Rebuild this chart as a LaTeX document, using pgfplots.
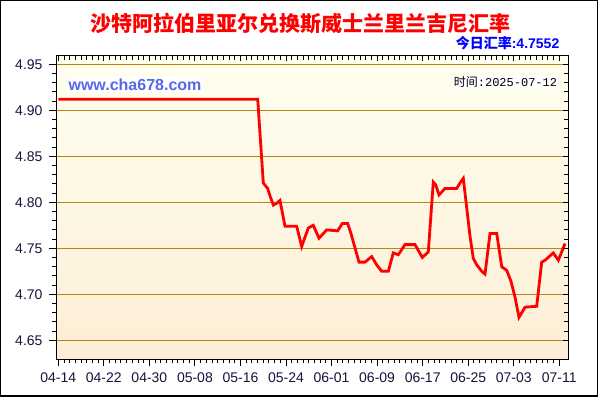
\documentclass[border=0pt]{standalone}
\usepackage{fontspec}
\setmainfont{Liberation Sans}
\newfontfamily\cjk{Noto Sans CJK SC}
\newfontfamily\mono{Liberation Mono}
\usepackage{pgfplots}
\pgfplotsset{compat=1.18}
\definecolor{gridgold}{RGB}{184,134,11}
\definecolor{bgtop}{RGB}{255,255,240}
\definecolor{bgbot}{RGB}{252,238,214}
\definecolor{labelc}{RGB}{20,20,60}
\definecolor{wmark}{RGB}{85,105,235}

\pgfplotstableread{
day rate
0 4.912
35.03 4.912
36.01 4.821
36.78 4.815
37.19 4.807
37.77 4.797
38.36 4.799
38.94 4.802
39.82 4.774
41.88 4.774
42.75 4.752
43.91 4.772
44.79 4.775
45.79 4.761
47.15 4.770
49.08 4.769
49.89 4.777
50.83 4.777
51.41 4.766
52.82 4.735
53.87 4.735
55.05 4.741
55.93 4.732
56.81 4.725
57.97 4.725
58.84 4.745
59.72 4.743
60.90 4.754
62.66 4.754
63.94 4.740
64.99 4.746
65.87 4.822
66.29 4.819
66.87 4.808
67.92 4.815
69.98 4.815
70.56 4.821
71.14 4.826
72.32 4.763
72.90 4.739
73.50 4.732
74.38 4.725
74.95 4.722
75.83 4.766
77.01 4.766
77.89 4.730
78.77 4.726
79.52 4.714
80.22 4.697
80.92 4.675
81.98 4.686
84.03 4.687
84.91 4.735
85.49 4.737
86.95 4.745
87.83 4.737
89.01 4.7552
}\ratedata

\begin{document}
\begin{tikzpicture}
\path (0,0) rectangle (600pt,400pt);
\draw[line width=1.3pt] (0.65pt,4pt) rectangle (597.3pt,399.35pt);
\pgfplotsset{
  base/.style={
    at={(56pt,41pt)}, anchor=south west,
    scale only axis, width=512pt, height=303pt,
    xmin=-0.4, xmax=89.53, ymin=4.6297, ymax=4.959,
    xtick={0,8,...,88}, minor x tick num=7,
    ytick={4.65,4.70,4.75,4.80,4.85,4.90,4.95}, minor y tick num=4,
    major tick length=7pt, minor tick length=4pt,
    every tick/.style={black, line width=0.9pt},
  }
}
\begin{axis}[base,
  xtick pos=left, ytick pos=left, tick align=outside,
  axis line style={black, line width=1pt},
  axis background/.style={top color=bgtop, bottom color=bgbot},
  ymajorgrids, major grid style={gridgold, line width=1pt},
  xticklabels={04-14,04-22,04-30,05-08,05-16,05-24,06-01,06-09,06-17,06-25,07-03,07-11},
  ticklabel style={font=\fontsize{14}{14}\selectfont, text=labelc},
  xticklabel style={yshift=-3pt},
  yticklabel style={xshift=-3pt, /pgf/number format/fixed, /pgf/number format/fixed zerofill, /pgf/number format/precision=2},
  /pgf/number format/assume math mode=true,
]
\addplot[red, line width=2.8pt, line join=miter] table[x=day, y=rate] {\ratedata};
\end{axis}
\begin{axis}[base,
  xtick pos=right, ytick pos=right, tick align=inside,
  major tick length=5pt, minor tick length=4pt,
  axis line style={draw=none},
  xticklabels={}, yticklabels={},
]
\end{axis}
\node[text=red, font=\cjk\bfseries\fontsize{21}{21}\selectfont] at (300.8pt,376pt) {沙特阿拉伯里亚尔兑换斯威士兰里兰吉尼汇率};
\node[anchor=east, text=blue, inner sep=0pt] at (559.5pt,357pt) {\fontsize{14}{14}\selectfont\bfseries{\cjk 今日汇率}:4.7552};
\node[fill=white, text=wmark, inner sep=1.5pt] at (135pt,315.7pt) {\fontsize{16}{16}\selectfont\bfseries www.cha678.com};
\node[fill=white, text=black, inner sep=1pt] at (505.5pt,318.3pt) {\fontsize{12}{12}\selectfont{\cjk 时间}{\mono :2025-07-12}};
\end{tikzpicture}
\end{document}
